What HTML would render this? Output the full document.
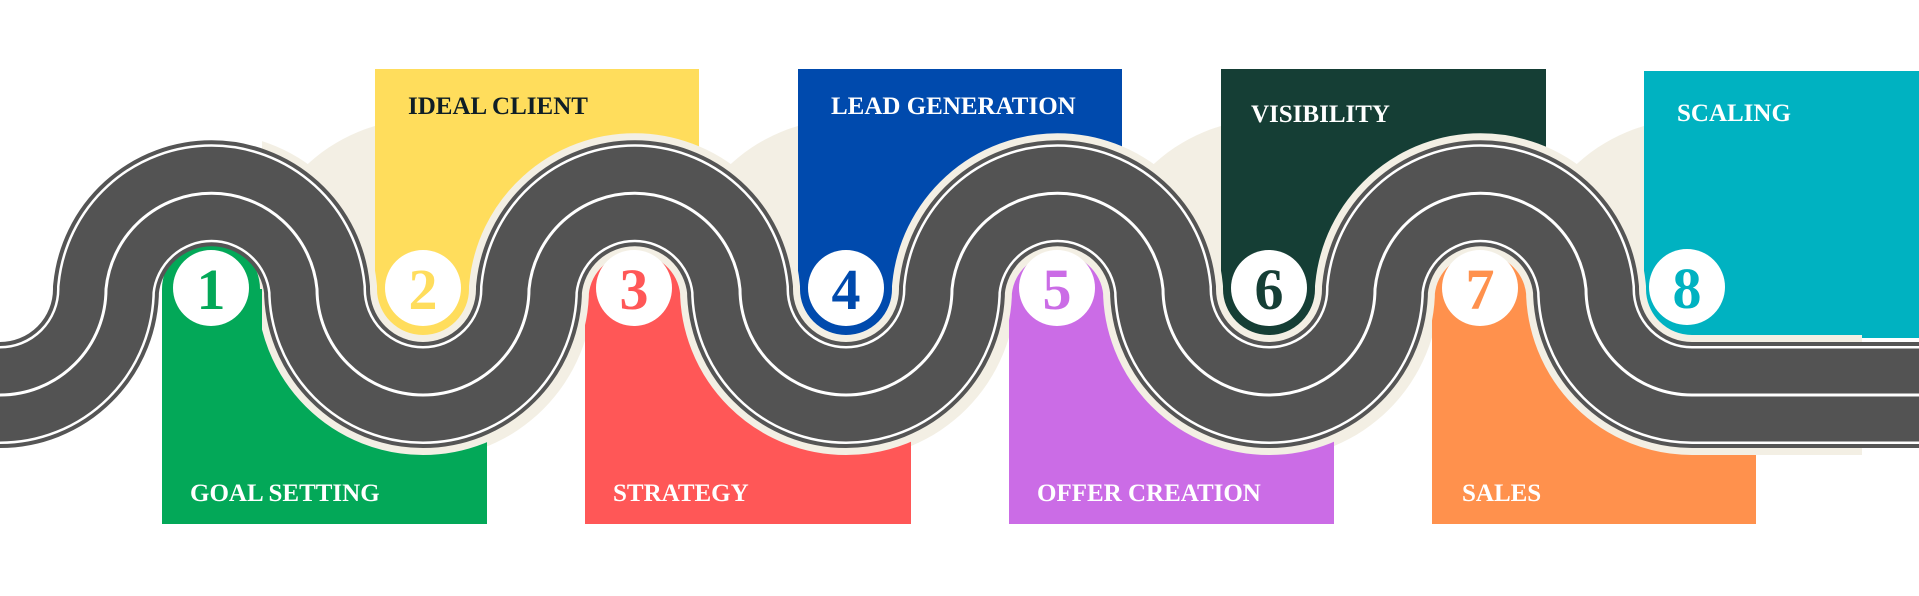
<!DOCTYPE html>
<html><head><meta charset="utf-8"><style>
html,body{margin:0;padding:0;background:#fff;}
svg{display:block;}
.lb{font-family:"Liberation Serif",serif;font-weight:bold;font-size:25px;fill:#fff;}
.nm{font-family:"Liberation Serif",serif;font-weight:900;font-size:58px;text-anchor:middle;}
</style></head><body>
<svg width="1919" height="596" viewBox="0 0 1919 596" xmlns="http://www.w3.org/2000/svg">
<defs>
<clipPath id="hc"><rect x="262" y="0" width="1600" height="596"/></clipPath>
<path id="rd" d="M0,395 A106,106 0 0 0 106,289 A106,106 0 0 1 317,289 A106,106 0 0 0 529,289 A106,106 0 0 1 740,289 A106,106 0 0 0 952,289 A106,106 0 0 1 1163,289 A106,106 0 0 0 1375,289 A106,106 0 0 1 1586,289 A106,106 0 0 0 1692,395 L1919,395"/>
</defs>
<g fill="#f3efe4">
<circle cx="423" cy="289" r="170"/><circle cx="846" cy="289" r="170"/>
<circle cx="1269" cy="289" r="170"/><circle cx="1692" cy="289" r="170"/>
</g>
<!-- top panels -->
<path d="M375,69 H699 V295 H560 V337 H423 A48,48 0 0 1 375,289 Z" fill="#ffdd5c"/>
<path d="M798,69 H1122 V295 H983 V337 H846 A48,48 0 0 1 798,289 Z" fill="#004aad"/>
<path d="M1221,69 H1546 V295 H1406 V337 H1269 A48,48 0 0 1 1221,289 Z" fill="#153e35"/>
<path d="M1644,71 H1919 V338 H1692 A48,48 0 0 1 1644,290 Z" fill="#00b2c1"/>
<!-- bottom panels -->
<path d="M162,524 V289 A49,49 0 0 1 260,289 H300 V380 H487 V524 Z" fill="#03a858"/>
<path d="M585,524 V289 A49,49 0 0 1 683,289 H723 V380 H911 V524 Z" fill="#ff5757"/>
<path d="M1009,524 V289 A49,49 0 0 1 1107,289 H1147 V380 H1334 V524 Z" fill="#cb6ce6"/>
<path d="M1432,524 V289 A49,49 0 0 1 1530,289 H1570 V380 H1756 V524 Z" fill="#ff914d"/>
<g fill="none">
<use href="#rd" stroke="#f3efe4" stroke-width="120" clip-path="url(#hc)"/>
<use href="#rd" stroke="#555" stroke-width="106"/>
<use href="#rd" stroke="#fff" stroke-width="98"/>
<use href="#rd" stroke="#535353" stroke-width="93"/>
<use href="#rd" stroke="#fff" stroke-width="3"/>
</g>
<g fill="#fff">
<circle cx="211" cy="288" r="38"/><circle cx="423" cy="288" r="38"/>
<circle cx="634" cy="288" r="38"/><circle cx="846" cy="288" r="38"/>
<circle cx="1057" cy="288" r="38"/><circle cx="1269" cy="288" r="38"/>
<circle cx="1480" cy="288" r="38"/><circle cx="1687" cy="287" r="38"/>
</g>
<text class="nm" x="211" y="309" fill="#03a858">1</text>
<text class="nm" x="423" y="309" fill="#ffdd5c">2</text>
<text class="nm" x="634" y="309" fill="#ff5757">3</text>
<text class="nm" x="846" y="309" fill="#004aad">4</text>
<text class="nm" x="1057" y="309" fill="#cb6ce6">5</text>
<text class="nm" x="1269" y="309" fill="#153e35">6</text>
<text class="nm" x="1480" y="309" fill="#ff914d">7</text>
<text class="nm" x="1687" y="308" fill="#00b2c1">8</text>
<text class="lb" x="190" y="501">GOAL SETTING</text>
<text class="lb" x="613" y="501">STRATEGY</text>
<text class="lb" x="1037" y="501">OFFER CREATION</text>
<text class="lb" x="1462" y="501">SALES</text>
<text class="lb" x="408" y="114" style="fill:#0f1e26">IDEAL CLIENT</text>
<text class="lb" x="831" y="114">LEAD GENERATION</text>
<text class="lb" x="1251" y="122">VISIBILITY</text>
<text class="lb" x="1677" y="121">SCALING</text>
</svg>
</body></html>
